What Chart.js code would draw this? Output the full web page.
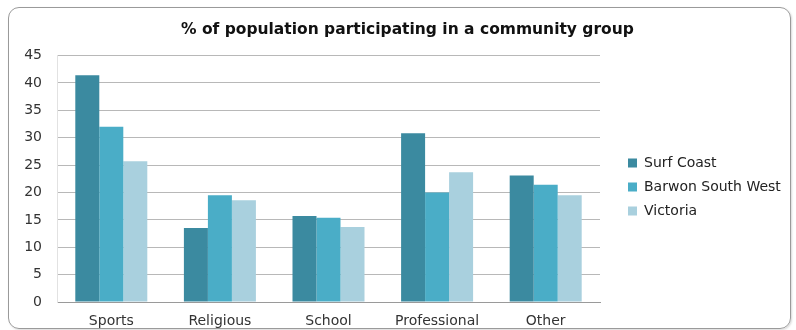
<!DOCTYPE html>
<html>
<head>
<meta charset="utf-8">
<script src="https://cdn.jsdelivr.net/npm/chart.js@4.4.1/dist/chart.umd.min.js"></script>
<style>
  html, body { margin: 0; padding: 0; background: #fff; overflow: hidden; }
  #wrap { position: relative; width: 796px; height: 330px; }
  #frame { position: absolute; left: 8px; top: 7px; width: 781px; height: 320px;
           border: 1px solid #9a9a9a; border-radius: 11px; pointer-events: none;
           box-shadow: 1px 1px 2px rgba(0,0,0,0.15); }
  canvas { position: absolute; left: 0; top: 0; }
</style>
</head>
<body>
<div id="wrap">
  <canvas id="c" width="796" height="330"></canvas>
  <div id="frame"></div>
</div>
<script>
const categories = ['Sports', 'Religious', 'School', 'Professional', 'Other'];
const surfCoast = [41.4, 13.5, 15.7, 30.8, 23.1];
const barwonSouthWest = [32.0, 19.5, 15.4, 20.0, 21.4];
const victoria = [25.7, 18.6, 13.7, 23.7, 19.5];
const seriesNames = ['Surf Coast', 'Barwon South West', 'Victoria'];
const yTicks = [0, 5, 10, 15, 20, 25, 30, 35, 40, 45];

const FONT = "'DejaVu Sans', sans-serif";
const LEGEND_GAP = 18;
const TITLE_SHIFT = 16;

// moves the legend a little away from the plot area and the title to the
// right, as in the reference
const layoutNudge = {
  id: 'layoutNudge',
  afterLayout(chart) {
    if (chart.legend) {
      chart.legend.left += LEGEND_GAP;
      chart.legend.right += LEGEND_GAP;
    }
    if (chart.titleBlock) {
      chart.titleBlock.left += TITLE_SHIFT;
      chart.titleBlock.right += TITLE_SHIFT;
    }
  }
};

const chart = new Chart(document.getElementById('c'), {
  type: 'bar',
  data: {
    labels: categories,
    datasets: [
      { label: seriesNames[0], data: surfCoast, backgroundColor: '#3b8aa0' },
      { label: seriesNames[1], data: barwonSouthWest, backgroundColor: '#4aadc7' },
      { label: seriesNames[2], data: victoria, backgroundColor: '#a9d0de' }
    ]
  },
  plugins: [layoutNudge],
  options: {
    responsive: false,
    animation: false,
    devicePixelRatio: 1,
    layout: { padding: { left: 10, right: 22, top: 10, bottom: 0 } },
    datasets: { bar: { categoryPercentage: 0.663, barPercentage: 1.0 } },
    plugins: {
      title: {
        display: true,
        text: '% of population participating in a community group',
        color: '#111',
        font: { family: FONT, size: 15.5, weight: 'bold' },
        padding: { top: 11, bottom: 16 }
      },
      legend: {
        position: 'right',
        align: 'center',
        title: { display: true, text: ' ', font: { size: 10 }, padding: 11 },
        labels: {
          boxWidth: 9, boxHeight: 9, padding: 10,
          color: '#222',
          font: { family: FONT, size: 14 }
        }
      },
      tooltip: { enabled: false }
    },
    scales: {
      x: {
        grid: { display: false },
        border: { display: true, color: '#9a9a9a', width: 1 },
        ticks: { color: '#333', font: { family: FONT, size: 14 }, padding: 3 },
        afterFit: s => { s.height = 28; }
      },
      y: {
        min: 0, max: 45,
        afterBuildTicks: s => { s.ticks = yTicks.map(v => ({ value: v })); },
        grid: { color: '#b8b8b8', drawTicks: false },
        border: { display: true, color: '#e2e2e2' },
        ticks: { color: '#333', font: { family: FONT, size: 14 }, padding: 15 },
        afterFit: s => { s.width = 47; }
      }
    }
  }
});
// keep the plot area's right edge where the reference has it
const delta = chart.chartArea.right - 600;
if (Math.abs(delta) > 0.5) {
  chart.options.layout.padding.right += delta;
  chart.update('none');
}
</script>
</body>
</html>
